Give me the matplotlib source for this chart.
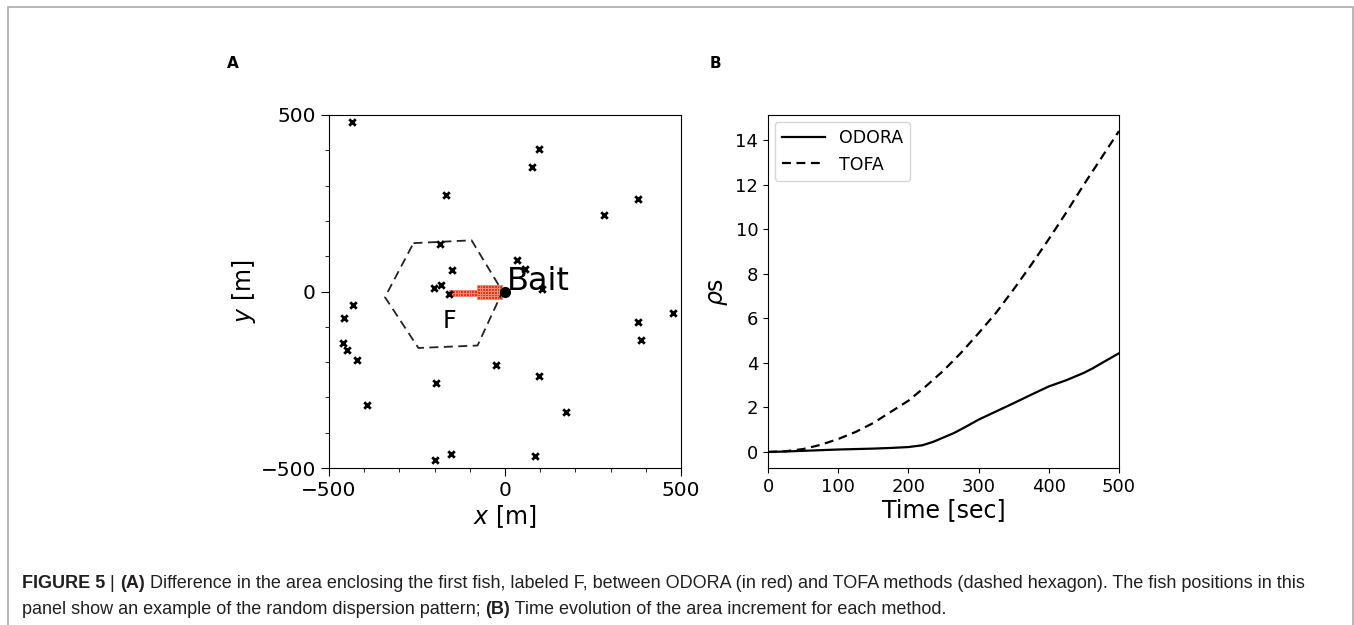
import numpy as np
import matplotlib
matplotlib.use("Agg")
import matplotlib.pyplot as plt
from matplotlib.patches import Rectangle

# ---- panel A data: fish positions [m]
fish_x = [-436, 98, 77, -169, 281, 379, -185, -150, -201, -182, -159, 34, 57, 104,
          -431, -458, -460, -449, -420, -392, -196, -25, 98, 174, -198, -153, 86,
          377, 385, 476]
fish_y = [479, 403, 354, 273, 217, 262, 135, 61, 9, 18, -7, 89, 63, 8,
          -38, -74, -145, -165, -195, -322, -258, -207, -238, -342, -476, -459, -465,
          -85, -138, -61]

# TOFA hexagon vertices
hex_x = [-260, -95, -7, -78, -246, -341]
hex_y = [137, 145, 0, -153, -160, -16]

# ODORA area (two blocks of grid cells): x range, y range
odora_blocks = [((-158, -80), (-12, 4)), ((-80, -8), (-22, 18))]
cell = 8

bait = (0, 0)
fish_f = (-177, -104)

# ---- panel B data: area increment vs time
t_tofa = [0, 25, 50, 75, 100, 125, 150, 175, 200, 225, 250, 275, 300, 325, 350,
          375, 400, 425, 450, 475, 500]
tofa = [0, 0.03, 0.13, 0.32, 0.58, 0.9, 1.3, 1.8, 2.3, 2.95, 3.65, 4.45, 5.33, 6.25,
        7.3, 8.4, 9.55, 10.75, 12.0, 13.2, 14.4]
t_odora = [0, 25, 50, 75, 100, 125, 150, 175, 200, 220, 235, 250, 265, 280, 300,
           325, 350, 375, 400, 425, 450, 463, 475, 500]
odora = [0, 0.02, 0.05, 0.08, 0.11, 0.13, 0.15, 0.18, 0.22, 0.3, 0.45, 0.65, 0.85,
         1.1, 1.45, 1.82, 2.19, 2.57, 2.94, 3.22, 3.55, 3.76, 3.98, 4.43]

W, H = 1354, 625
fig = plt.figure(figsize=(W / 100, H / 100), dpi=100)

# outer border
fig.add_artist(Rectangle((8 / W, -0.05), 1345 / W, 1.05 - 7 / H, transform=fig.transFigure,
                         fill=False, edgecolor='#aaaaaa', linewidth=1.2))

# ---------------- panel A
axA = fig.add_axes([329 / W, 1 - 468 / H, 352 / W, 353 / H])
for (x0, x1), (y0, y1) in odora_blocks:
    nx = max(1, int(round((x1 - x0) / cell)))
    ny = max(1, int(round((y1 - y0) / cell)))
    xe = np.linspace(x0, x1, nx + 1)
    ye = np.linspace(y0, y1, ny + 1)
    axA.pcolormesh(xe, ye, np.ones((ny, nx)), cmap=matplotlib.colors.ListedColormap(['#e4381c']),
                   edgecolors='#f2896e', linewidth=0.4, zorder=2)
axA.plot(hex_x + hex_x[:1], hex_y + hex_y[:1], ls=(0, (5, 3)), color='#222222', lw=1.3, zorder=3)
axA.scatter(fish_x, fish_y, marker='x', s=22, c='black', linewidths=2, zorder=4)
axA.plot(*bait, 'o', color='black', markersize=7, zorder=5)
axA.text(bait[0] + 6, bait[1] + 4, 'Bait', fontsize=23, zorder=6)
axA.text(fish_f[0], fish_f[1], 'F', fontsize=17, zorder=6)
axA.set_xlim(-500, 500)
axA.set_ylim(-500, 500)
axA.set_xticks([-500, 0, 500])
axA.set_yticks([-500, 0, 500])
axA.set_xticks(np.arange(-500, 501, 100), minor=True)
axA.set_yticks(np.arange(-500, 501, 100), minor=True)
axA.tick_params(labelsize=14.5, length=6)
axA.tick_params(which='minor', length=3)
axA.set_xlabel(r'$x$ [m]', fontsize=17, labelpad=2)
axA.set_ylabel(r'$y$ [m]', fontsize=17, labelpad=2)

# ---------------- panel B
axB = fig.add_axes([768 / W, 1 - 468 / H, 351 / W, 353 / H])
axB.plot(t_odora, odora, color='black', lw=1.6, label='ODORA')
axB.plot(t_tofa, tofa, color='black', lw=1.6, ls=(0, (4, 2.5)), label='TOFA')
axB.set_xlim(0, 500)
axB.set_xticks([0, 100, 200, 300, 400, 500])
axB.set_yticks([0, 2, 4, 6, 8, 10, 12, 14])
axB.tick_params(labelsize=13)
axB.set_xlabel('Time [sec]', fontsize=17, labelpad=2)
axB.set_ylabel(r'$\rho$s', fontsize=17, labelpad=4)
axB.legend(loc='upper left', fontsize=12.5, handlelength=2.5, borderaxespad=0.4)

# panel letters
fig.text(233 / W, 1 - 63 / H, 'A', fontsize=11, fontweight='bold', ha='center', va='center')
fig.text(715 / W, 1 - 63 / H, 'B', fontsize=11, fontweight='bold', ha='center', va='center')

# caption with mixed bold / regular pieces
cap_font = ['Liberation Sans Narrow', 'Liberation Sans', 'DejaVu Sans']
cap_size = 13
cap_color = '#231f20'
lines = [
    [('FIGURE 5', 'bold'), (' | ', 'normal'), ('(A)', 'bold'),
     (' Difference in the area enclosing the first fish, labeled F, between ODORA (in red) and '
      'TOFA methods (dashed hexagon). The fish positions in this', 'normal')],
    [('panel show an example of the random dispersion pattern; ', 'normal'), ('(B)', 'bold'),
     (' Time evolution of the area increment for each method.', 'normal')],
]
renderer = fig.canvas.get_renderer()
for i, pieces in enumerate(lines):
    x = 22
    y = 1 - (588 + 26 * i) / H
    for txt, wt in pieces:
        t = fig.text(x / W, y, txt, fontsize=cap_size, fontweight=wt, family=cap_font,
                     color=cap_color, va='baseline', ha='left')
        x += t.get_window_extent(renderer).width

fig.savefig('out.png', dpi=100)
